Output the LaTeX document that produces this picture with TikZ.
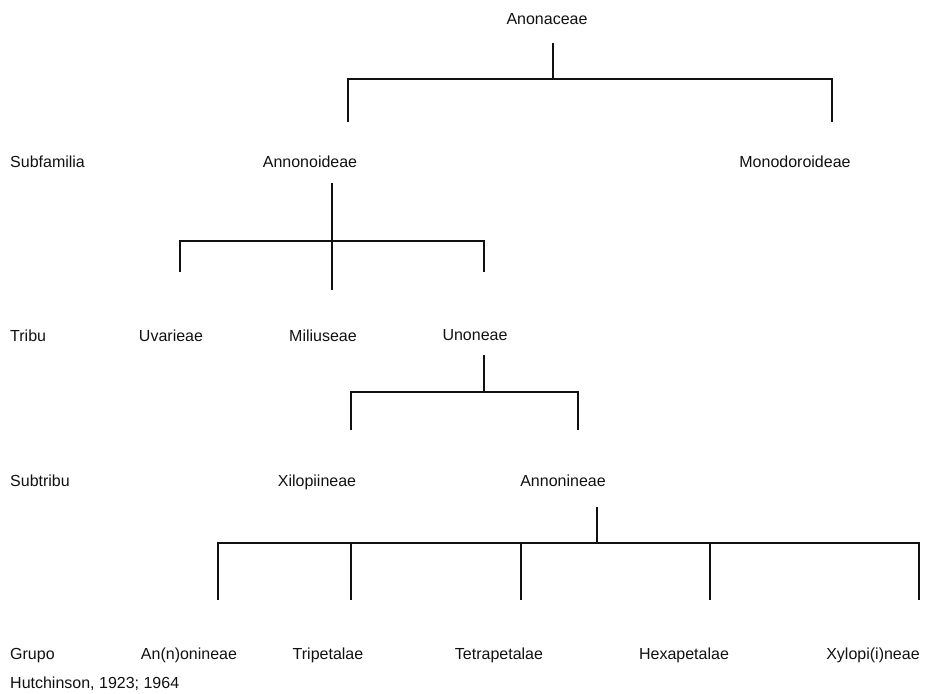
\documentclass[tikz,border=0pt]{standalone}
\usepackage{fontspec}
\setmainfont{Liberation Sans}
\usetikzlibrary{arrows.meta}
\definecolor{inkblack}{HTML}{111111}

\begin{document}
\begin{tikzpicture}[x=1pt, y=-1pt,
  taxon/.style={inkblack, font=\fontsize{16}{19}\selectfont, inner sep=0pt,
    text height=11.5pt, text depth=3.4pt},
  rank/.style={taxon, anchor=west},
  branch/.style={inkblack, line width=1.3pt}]

\useasboundingbox (0,0) rectangle (925,693);

%%% Family
\node[taxon] (anon) at (547,20) {Anonaceae};

% Family -> subfamilies
\coordinate (anonS) at (553,43);
\coordinate (anonJ) at (553,79);
\coordinate (annoidN) at (348,122);
\coordinate (monoN) at (832,122);
\draw[branch] (anonS) -- (anonJ);
\draw[branch] (annoidN) -- (annoidN |- anonJ) -- (monoN |- anonJ) -- (monoN);

%%% Subfamilia
\node[rank] (subfam) at (10,163) {Subfamilia};
\node[taxon] (annoid) at (310,163) {Annonoideae};
\node[taxon] (mono) at (795,163) {Monodoroideae};

% Annonoideae -> tribes
\coordinate (annoidS) at (332,183);
\coordinate (annoidJ) at (332,241);
\coordinate (uvarN) at (180,272);
\coordinate (miliN) at (332,290);
\coordinate (unonN) at (484,272);
\draw[branch] (annoidS) -- (miliN);
\draw[branch] (uvarN) -- (uvarN |- annoidJ) -- (unonN |- annoidJ) -- (unonN);

%%% Tribu
\node[rank] (tribu) at (10,337) {Tribu};
\node[taxon] (uvar) at (171,337) {Uvarieae};
\node[taxon] (mili) at (323,337) {Miliuseae};
\node[taxon] (unon) at (475,336) {Unoneae};

% Unoneae -> subtribes
\coordinate (unonS) at (484,355);
\coordinate (unonJ) at (484,392);
\coordinate (xiloN) at (351,430);
\coordinate (anninN) at (578,430);
\draw[branch] (unonS) -- (unonJ);
\draw[branch] (xiloN) -- (xiloN |- unonJ) -- (anninN |- unonJ) -- (anninN);

%%% Subtribu
\node[rank] (subtribu) at (10,482) {Subtribu};
\node[taxon] (xilo) at (317,482) {Xilopiineae};
\node[taxon] (annin) at (563,482) {Annonineae};

% Annonineae -> groups
\coordinate (anninS) at (597,507);
\coordinate (anninJ) at (597,543);
\draw[branch] (anninS) -- (anninJ);
\draw[branch] (218,600) -- (218,543) -- (919,543) -- (919,600);
\foreach \gx in {351,521,710}
  \draw[branch] (\gx,543) -- (\gx,600);

%%% Grupo
\node[rank] (grupo) at (10,655) {Grupo};
\node[taxon] (annon) at (189,655) {An(n)onineae};
\node[taxon] (tripet) at (328,655) {Tripetalae};
\node[taxon] (tetrapet) at (499,655) {Tetrapetalae};
\node[taxon] (hexapet) at (684,655) {Hexapetalae};
\node[taxon] (xylop) at (873,655) {Xylopi(i)neae};

% Source
\node[rank] (source) at (10,684) {Hutchinson, 1923; 1964};

\end{tikzpicture}
\end{document}
